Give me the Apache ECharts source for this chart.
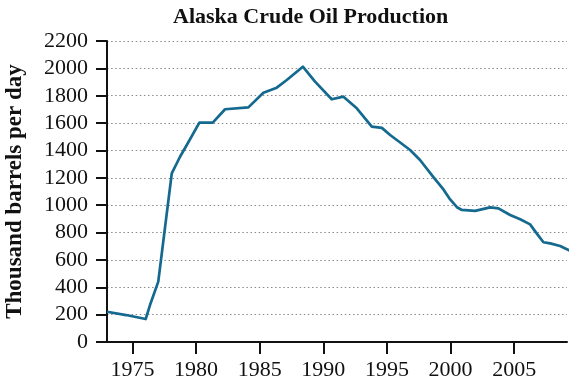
<!DOCTYPE html>
<html>
<head>
<meta charset="utf-8">
<script src="https://cdn.jsdelivr.net/npm/echarts@6/dist/echarts.min.js"></script>
<style>
  html, body { margin: 0; padding: 0; background: #fff; }
  #chart { width: 571px; height: 390px; }
</style>
</head>
<body>
<div id="chart"></div>
<script>
// (year, thousand barrels per day)
const years = [1973.0, 1974.5, 1976.04, 1976.38, 1977.03, 1978.09, 1978.74, 1979.27, 1980.26, 1981.31,
  1982.28, 1984.11, 1985.29, 1986.34, 1987.13, 1988.39, 1989.35, 1990.66, 1991.58, 1992.63,
  1993.81, 1994.6, 1995.25, 1996.3, 1996.82, 1997.6, 1998.65, 1999.44, 1999.9, 2000.5,
  2000.89, 2001.93, 2003.11, 2003.76, 2004.68, 2005.47, 2006.25, 2006.78, 2007.3, 2007.83,
  2008.61, 2009.4];
const production = [221, 197, 168, 270, 441, 1233, 1354, 1440, 1603, 1603,
  1701, 1715, 1822, 1859, 1915, 2012, 1903, 1774, 1793, 1708,
  1574, 1565, 1513, 1440, 1403, 1330, 1205, 1115, 1050, 985,
  965, 958, 984, 977, 928, 897, 860, 792, 729, 721,
  702, 667];
const yearMin = 1973;
const yearMax = 2009.15;
const firstTick = 1975;
const lastTick = 2005;

const chart = echarts.init(document.getElementById("chart"));
const serif = "Liberation Serif";

// plot area in px; the tick grid below is the same scale, trimmed to 1975..2005
const plotLeft = 107;
const plotRight = 567;
const pxPerYear = (plotRight - plotLeft) / (yearMax - yearMin);
const tickLeft = plotLeft + (firstTick - yearMin) * pxPerYear;
const tickRight = plotLeft + (lastTick - yearMin) * pxPerYear;

const option = {
  animation: false,
  title: {
    text: "Alaska Crude Oil Production",
    left: 168,
    top: 1,
    textStyle: { fontFamily: serif, fontWeight: "bold", fontSize: 22, color: "#111" },
  },
  grid: [
    { left: plotLeft, right: 571 - plotRight, top: 41, bottom: 48, containLabel: false, outerBoundsMode: "none" },
    { left: tickLeft, right: 571 - tickRight, top: 41, bottom: 48, containLabel: false, outerBoundsMode: "none" },
  ],
  xAxis: [
    {
      gridIndex: 0,
      type: "value",
      min: yearMin,
      max: yearMax,
      axisLine: { lineStyle: { color: "#111", width: 2 } },
      axisTick: { show: false },
      axisLabel: { show: false },
      splitLine: { show: false },
    },
    {
      // ticks + year labels every 5 years; its line sits on top of the main one
      gridIndex: 1,
      type: "value",
      min: firstTick,
      max: lastTick,
      interval: 5,
      axisLine: { show: true, lineStyle: { color: "#111", width: 2 } },
      axisTick: { show: true, length: 12, lineStyle: { color: "#111", width: 2 } },
      axisLabel: {
        margin: 17,
        fontFamily: serif,
        fontSize: 22,
        color: "#111",
        formatter: (v) => String(v),
      },
      splitLine: { show: false },
    },
  ],
  yAxis: [
    {
      gridIndex: 0,
      type: "value",
      min: 0,
      max: 2200,
      interval: 200,
      name: "Thousand barrels per day",
      nameLocation: "middle",
      nameGap: 80,
      nameTextStyle: { fontFamily: serif, fontWeight: "bold", fontSize: 23, color: "#111" },
      axisLine: { show: true, lineStyle: { color: "#111", width: 2 } },
      axisTick: { show: true, length: 11, lineStyle: { color: "#111", width: 2 } },
      axisLabel: {
        margin: 19,
        fontFamily: serif,
        fontSize: 22,
        color: "#111",
        formatter: (v) => String(v),
      },
      splitLine: {
        show: true,
        lineStyle: { color: "#8a8a8a", width: 1, type: [1.5, 2.6] },
      },
    },
    { gridIndex: 1, type: "value", min: 0, max: 2200, show: false },
  ],
  series: [
    {
      type: "line",
      xAxisIndex: 0,
      yAxisIndex: 0,
      data: years.map((y, i) => [y, production[i]]),
      showSymbol: false,
      clip: false,
      lineStyle: { color: "#14698f", width: 2.7, join: "round" },
    },
  ],
};
chart.setOption(option);
</script>
</body>
</html>
